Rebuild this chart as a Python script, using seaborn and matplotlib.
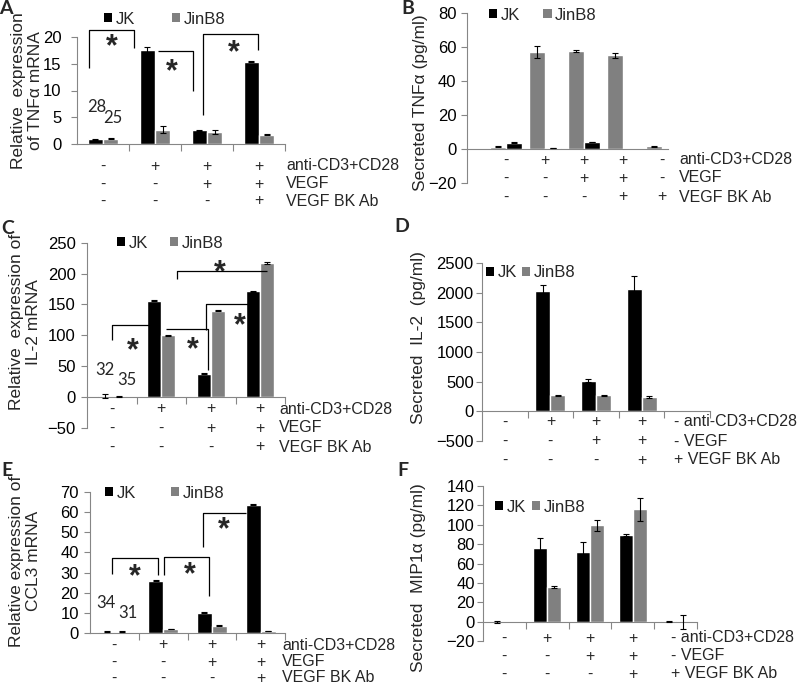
import numpy as np
import pandas as pd
import matplotlib
matplotlib.use("Agg")
import matplotlib.pyplot as plt
import seaborn as sns
from matplotlib.patches import Patch
from matplotlib.transforms import blended_transform_factory

# ---------------- data ----------------
SERIES = ["JK", "JinB8"]
COLORS = {"JK": "#000000", "JinB8": "#808080"}
ROW_NAMES = ["anti-CD3+CD28", "VEGF", "VEGF BK Ab"]

# Panel A: relative TNFa mRNA
A_jk = [0.9, 17.6, 2.6, 15.4]
A_jk_err = [0.1, 0.5, 0.1, 0.1]
A_jb = [1.0, 2.7, 2.2, 1.7]
A_jb_err = [0.1, 0.7, 0.4, 0.1]
A_cond = [["-", "+", "+", "+"], ["-", "-", "+", "+"], ["-", "-", "-", "+"]]
A_n = [("28", -0.115, 6.9), ("25", 0.19, 4.8)]

# Panel B: secreted TNFa
B_jk = [3.8, 0.5, 4.2, 0.1, 0.0]
B_jk_err = [0.2, 0.1, 0.2, 0.0, 0.0]
B_jb = [1.2, 57.0, 57.5, 55.0, 1.5]
B_jb_err = [0.3, 3.5, 0.6, 1.5, 0.3]
B_cond = [["-", "+", "+", "+", "-"], ["-", "-", "+", "+", "-"], ["-", "-", "-", "+", "+"]]

# Panel C: relative IL-2 mRNA
C_jk = [2, 156, 38, 171]
C_jk_err = [3, 1, 1, 1]
C_jb = [1, 100, 140, 217]
C_jb_err = [0.5, 1, 1, 1]
C_cond = [["-", "+", "+", "+"], ["-", "-", "+", "+"], ["-", "-", "-", "+"]]
C_n = [("32", -0.146, 44), ("35", 0.31, 28)]

# Panel D: secreted IL-2
D_jk = [5, 2030, 515, 2070, 0]
D_jk_err = [0, 95, 25, 210, 0]
D_jb = [5, 270, 270, 240, 0]
D_jb_err = [0, 8, 10, 15, 0]
D_cond = [["-", "+", "+", "+", "-"], ["-", "-", "+", "+", "-"], ["-", "-", "-", "+", "+"]]

# Panel E: relative CCL3 mRNA
E_jk = [0.8, 26.0, 10.2, 63.5]
E_jk_err = [0.1, 0.3, 0.2, 0.2]
E_jb = [0.8, 2.1, 3.7, 1.1]
E_jb_err = [0.1, 0.2, 0.2, 0.1]
E_cond = [["-", "+", "+", "+"], ["-", "-", "+", "+"], ["-", "-", "-", "+"]]
E_n = [("34", -0.17, 15.2), ("31", 0.27, 10)]

# Panel F: secreted MIP1a
F_jk = [0.0, 75.5, 71.7, 89.3, 0.5]
F_jk_err = [1.0, 10.4, 11.0, 1.2, 0.5]
F_jb = [0.0, 35.8, 99.3, 115.9, 0.0]
F_jb_err = [0.0, 1.2, 6.0, 12.0, 7.2]
F_cond = [["-", "+", "+", "+", "-"], ["-", "-", "+", "+", "-"], ["-", "-", "-", "+", "+"]]

# significance brackets (data coords) and stars
A_brackets = [[(-0.27, 14.2), (-0.27, 21.3), (0.596, 21.3), (0.596, 17.9)],
              [(1.06, 17.4), (1.74, 17.4), (1.74, 9.97)],
              [(1.93, 5.4), (1.93, 20.6), (2.99, 20.6), (2.99, 17.6)]]
A_stars = [(0.17, 19.6), (1.32, 14.95), (2.51, 18.5)]
C_brackets = [[(0.0, 92.7), (0.0, 116.5), (0.807, 116.5)],
              [(1.1, 110), (1.95, 110), (1.95, 44)],
              [(1.90, 109), (1.90, 151), (2.807, 151), (2.807, 141)],
              [(1.31, 192), (1.31, 204), (3.13, 204)]]
C_stars = [(0.435, 87), (1.635, 90), (2.59, 128), (2.19, 214)]
E_brackets = [[(-0.055, 29.3), (-0.055, 37.1), (0.889, 37.1), (0.889, 28.8)],
              [(1.02, 28.8), (1.02, 37.8), (1.95, 37.8), (1.95, 18.4)],
              [(1.81, 42.8), (1.81, 59.6), (2.71, 59.6)]]
E_stars = [(0.42, 32), (1.54, 32.9), (2.25, 55)]

# ---------------- style ----------------
sns.set_theme(style="white")
plt.rcParams["font.family"] = ["Liberation Sans", "DejaVu Sans"]
W, H = 800, 687
fig = plt.figure(figsize=(W / 100, H / 100), dpi=100)
fig.patch.set_facecolor("white")
AXC = "#868686"
FS_COND = 11.5


def fx(px):
    return px / W


def fy(py):
    return 1 - py / H


panels = [
    dict(letter="A", lpos=(6, 8), box=(77, 285, 37, 144), ylim=(0, 20), ystep=5,
         jk=A_jk, jke=A_jk_err, jb=A_jb, jbe=A_jb_err, cond=A_cond, order=["JK", "JinB8"],
         width=0.58, xlim=(-0.5, 3.5), minor=True, rows=(166, 184, 201), labx=286, prefix=False,
         leg=(104, 19), cs=2.2, ylabel="Relative  expression\nof TNF\u03b1 mRNA", ylpos=(27, 91),
         pad=7, nlab=A_n, brackets=A_brackets, stars=A_stars),
    dict(letter="B", lpos=(408, 8), box=(467, 668, 13, 183), ylim=(-20, 80), ystep=20,
         jk=B_jk, jke=B_jk_err, jb=B_jb, jbe=B_jb_err, cond=B_cond, order=["JinB8", "JK"],
         width=0.81, xlim=(-1.0, 4.15), minor=False, rows=(160, 178, 197), labx=679, prefix=False,
         leg=(489, 15), cs=1.4, ylabel="Secreted TNF\u03b1 (pg/ml)", ylpos=(421, 103),
         pad=3.6, nlab=[], brackets=[], stars=[]),
    dict(letter="C", lpos=(8, 228), box=(87, 285, 242.7, 428), ylim=(-50, 250), ystep=50,
         jk=C_jk, jke=C_jk_err, jb=C_jb, jbe=C_jb_err, cond=C_cond, order=["JK", "JinB8"],
         width=0.57, xlim=(-0.5, 3.5), minor=True, rows=(409, 428, 447), labx=279, prefix=False,
         leg=(117, 243), cs=1.3, ylabel="Relative  expression of\nIL-2 mRNA", ylpos=(25, 322),
         pad=4, nlab=C_n, brackets=C_brackets, stars=C_stars),
    dict(letter="D", lpos=(402, 226), box=(482, 710, 263, 441), ylim=(-500, 2500), ystep=500,
         jk=D_jk, jke=D_jk_err, jb=D_jb, jbe=D_jb_err, cond=D_cond, order=["JK", "JinB8"],
         width=0.66, xlim=(-0.5, 4.5), minor=True, rows=(422, 441, 460), labx=674, prefix=True,
         leg=(486, 273), cs=0.3, ylabel="Secreted  IL-2  (pg/ml)", ylpos=(418, 338),
         pad=2, nlab=[], brackets=[], stars=[]),
    dict(letter="E", lpos=(7, 471), box=(90, 285, 491.7, 633.3), ylim=(0, 70), ystep=10,
         jk=E_jk, jke=E_jk_err, jb=E_jb, jbe=E_jb_err, cond=E_cond, order=["JK", "JinB8"],
         width=0.62, xlim=(-0.5, 3.5), minor=True, rows=(645, 662, 678), labx=282, prefix=False,
         leg=(105, 493), cs=2.1, ylabel="Relative expression of\nCCL3 mRNA", ylpos=(25, 561),
         pad=4, nlab=E_n, brackets=E_brackets, stars=E_stars),
    dict(letter="F", lpos=(403, 471), box=(483, 697, 486, 641), ylim=(-20, 140), ystep=20,
         jk=F_jk, jke=F_jk_err, jb=F_jb, jbe=F_jb_err, cond=F_cond, order=["JK", "JinB8"],
         width=0.66, xlim=(-0.5, 4.5), minor=True, rows=(638, 656, 674), labx=671, prefix=True,
         leg=(495, 507), cs=0.35, ylabel="Secreted  MIP1\u03b1 (pg/ml)", ylpos=(418, 578),
         pad=2, nlab=[], brackets=[], stars=[]),
]

for p in panels:
    l, r, t, b = p["box"]
    ax = fig.add_axes([fx(l), fy(b), (r - l) / W, (b - t) / H])
    n = len(p["jk"])
    groups = [str(i + 1) for i in range(n)]
    df = pd.DataFrame({
        "group": groups * 2,
        "line": ["JK"] * n + ["JinB8"] * n,
        "value": list(p["jk"]) + list(p["jb"]),
    })
    errs = {"JK": p["jke"], "JinB8": p["jbe"]}
    sns.barplot(data=df, x="group", y="value", hue="line", order=groups,
                hue_order=p["order"], palette=COLORS, width=p["width"], saturation=1,
                errorbar=None, legend=False, ax=ax)
    # error bars
    for name, cont in zip(p["order"], ax.containers):
        for bar, e in zip(cont, errs[name]):
            if e > 0:
                ax.errorbar(bar.get_x() + bar.get_width() / 2, bar.get_height(), yerr=e,
                            fmt="none", ecolor="black", elinewidth=0.8, capsize=2.5,
                            capthick=0.8, zorder=4)
    ax.set_xlim(*p["xlim"])
    y0, y1 = p["ylim"]
    ax.set_ylim(y0, y1)
    ax.set_yticks(np.arange(y0, y1 + p["ystep"] / 2, p["ystep"]))
    ax.set_xticks([])
    ax.set_xlabel("")
    ax.set_ylabel("")
    if p["minor"]:
        ax.set_xticks([i + 0.5 for i in range(n)], minor=True)
    for s in ("top", "right"):
        ax.spines[s].set_visible(False)
    ax.spines["left"].set_color(AXC)
    ax.spines["left"].set_linewidth(0.8)
    ax.spines["bottom"].set_position(("data", 0))
    ax.spines["bottom"].set_color(AXC)
    ax.spines["bottom"].set_linewidth(0.8)
    ax.tick_params(axis="y", left=True, direction="out", length=4, width=0.8,
                   color=AXC, labelsize=12, pad=p["pad"], labelcolor="black")
    ax.tick_params(axis="x", which="minor", bottom=True, direction="out", length=5,
                   width=0.8, color=AXC)
    ax.patch.set_alpha(0)

    # y label
    ax.set_ylabel(p["ylabel"], fontsize=12.5, va="center", ha="center", linespacing=1.1)
    ax.yaxis.set_label_coords((p["ylpos"][0] - l) / (r - l), 1 - (p["ylpos"][1] - t) / (b - t))

    # legend
    handles = [Patch(facecolor=COLORS[s], edgecolor="none", label=s) for s in SERIES]
    ax.legend(handles=handles, loc="center left", bbox_to_anchor=(fx(p["leg"][0]), fy(p["leg"][1])),
              bbox_transform=fig.transFigure, ncol=2, frameon=False, fontsize=12,
              handlelength=0.5, handleheight=0.5, handletextpad=0.2,
              columnspacing=p["cs"], borderpad=0, borderaxespad=0)

    # condition table
    trans = blended_transform_factory(ax.transData, fig.transFigure)
    ncols = n - 1 if p["prefix"] else n
    for ri, (row, ypx) in enumerate(zip(p["cond"], p["rows"])):
        for gi in range(ncols):
            ax.text(gi, fy(ypx), row[gi], transform=trans, ha="center", va="center",
                    fontsize=FS_COND, clip_on=False)
        label = ROW_NAMES[ri]
        if p["prefix"]:
            label = row[-1] + " " + label
        fig.text(fx(p["labx"]), fy(ypx), label, ha="left", va="center", fontsize=FS_COND)

    # n labels
    for txt, xx, yy in p["nlab"]:
        ax.text(xx, yy, txt, ha="center", va="center", fontsize=12,
                family=["Lato", "DejaVu Sans"])
    # brackets
    for br in p["brackets"]:
        xs, ys = zip(*br)
        ax.plot(xs, ys, color="black", lw=0.9, solid_capstyle="butt", zorder=5, clip_on=False)
    for xx, yy in p["stars"]:
        ax.annotate("*", (xx, yy), xytext=(0, -6), textcoords="offset points",
                    ha="center", va="center", fontsize=22, fontweight="bold")

    fig.text(fx(p["lpos"][0]), fy(p["lpos"][1]), p["letter"], ha="center", va="center",
             fontsize=14, fontweight="bold", family=["Lato", "DejaVu Sans"])

fig.savefig("out.png", dpi=100, facecolor="white")
